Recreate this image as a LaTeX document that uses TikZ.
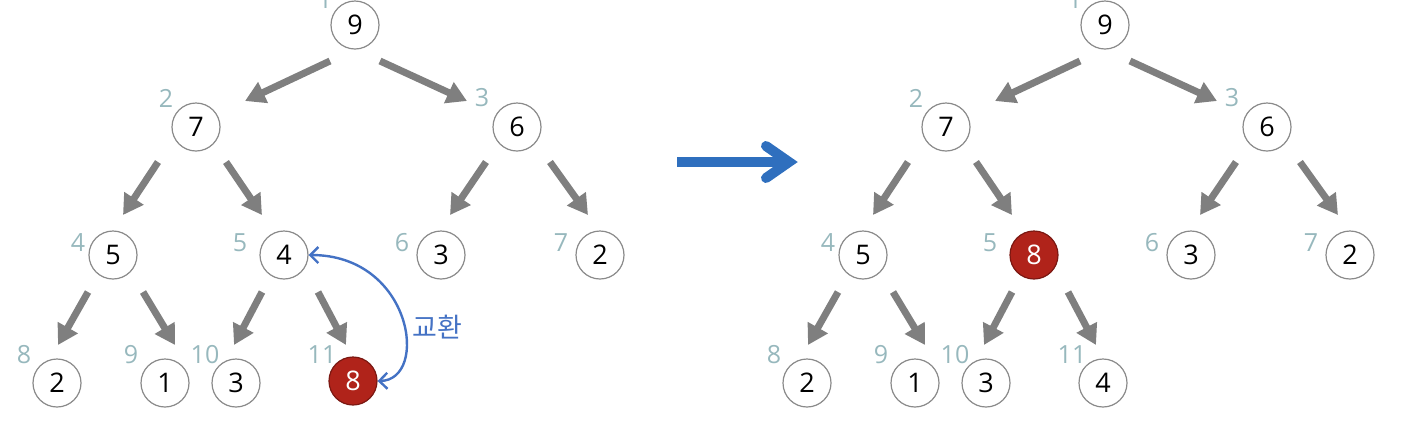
\documentclass[tikz,border=0pt]{standalone}
\usepackage{fontspec}
\setmainfont{Open Sans}
\newfontfamily\krfont{Noto Sans CJK KR}
\usetikzlibrary{arrows.meta,calc}
\definecolor{nodeborder}{HTML}{8A8A8A}
\definecolor{idxcol}{HTML}{97B8BD}
\definecolor{arrgray}{HTML}{7F7F7F}
\definecolor{hotred}{HTML}{B0231A}
\definecolor{swapblue}{HTML}{4472C4}
\definecolor{bigblue}{HTML}{2F6FBE}
\tikzset{
  heapnode/.style={circle,draw=nodeborder,line width=0.6pt,fill=white,minimum size=24pt,inner sep=0pt,font=\fontsize{13.5}{15}\selectfont},
  hotnode/.style={heapnode,fill=hotred,draw=hotred!70!black,text=white},
  idx/.style={text=idxcol,inner sep=0pt,font=\fontsize{12.5}{14}\selectfont},
  tarrow/.style={draw=arrgray,line width=3.5pt,-{Triangle[length=10pt,width=11pt]}},
  swaparrow/.style={draw=swapblue,line width=1.2pt,{Straight Barb[length=4pt,width=8pt]}-{Straight Barb[length=4pt,width=8pt]}},
}
\begin{document}
\begin{tikzpicture}[x=0.5pt,y=-0.5pt]
\useasboundingbox (0,0) rectangle (1410,420);
% ---------- left tree ----------
\node[heapnode] (L1) at (355,25) {9};
\node[heapnode] (L2) at (196,127) {7};
\node[heapnode] (L3) at (517,127) {6};
\node[heapnode] (L4) at (113,255) {5};
\node[heapnode] (L5) at (284,255) {4};
\node[heapnode] (L6) at (441,255) {3};
\node[heapnode] (L7) at (600,255) {2};
\node[heapnode] (L8) at (57,383) {2};
\node[heapnode] (L9) at (165,383) {1};
\node[heapnode] (L10) at (236,383) {3};
\node[hotnode] (L11) at (353,381) {8};
\node[idx] (Li1) at (325,0) {1};
\node[idx] (Li2) at (166,98) {2};
\node[idx] (Li3) at (482,98) {3};
\node[idx] (Li4) at (78,243) {4};
\node[idx] (Li5) at (240,243) {5};
\node[idx] (Li6) at (402,243) {6};
\node[idx] (Li7) at (561,243) {7};
\node[idx] (Li8) at (24,355) {8};
\node[idx] (Li9) at (131,355) {9};
\node[idx] (Li10) at (205,355) {10};
\node[idx] (Li11) at (322,355) {11};
\draw[tarrow] ($(L1)+(-25,36)$) -- ($(L2)+(49,-26)$);
\draw[tarrow] ($(L1)+(25,36)$) -- ($(L3)+(-50,-26)$);
\draw[tarrow] ($(L2)+(-38,35)$) -- ($(L4)+(10,-40)$);
\draw[tarrow] ($(L2)+(30,35)$) -- ($(L5)+(-22,-40)$);
\draw[tarrow] ($(L3)+(-31,35)$) -- ($(L6)+(9,-40)$);
\draw[tarrow] ($(L3)+(33,35)$) -- ($(L7)+(-12,-40)$);
\draw[tarrow] ($(L4)+(-25,37)$) -- ($(L8)+(1,-38)$);
\draw[tarrow] ($(L4)+(30,37)$) -- ($(L9)+(10,-38)$);
\draw[tarrow] ($(L5)+(-22,37)$) -- ($(L10)+(-2,-38)$);
\draw[tarrow] ($(L5)+(34,37)$) -- ($(L11)+(-7,-36)$);
\draw[swaparrow] (L5.east) .. controls ($(L5.east)+(104,0)$) and ($(L11.east)+(52,-1)$) .. (L11.east);
\node[text=swapblue,font=\krfont\fontsize{13.5}{15}\selectfont] (swaplbl) at (437,327) {교환};
% ---------- big arrow ----------
\coordinate (ba) at (677,162);
\coordinate (bb) at (789,162);
\draw[draw=bigblue,line width=5pt] (ba) -- (bb);
\draw[draw=bigblue,line width=5pt,line cap=round,miter limit=10] ($(bb)+(-23,-16)$) -- (bb) -- ($(bb)+(-23,16)$);
% ---------- right tree ----------
\begin{scope}[shift={(750,0)}]
\node[heapnode] (R1) at (355,25) {9};
\node[heapnode] (R2) at (196,127) {7};
\node[heapnode] (R3) at (517,127) {6};
\node[heapnode] (R4) at (113,255) {5};
\node[hotnode] (R5) at (284,255) {8};
\node[heapnode] (R6) at (441,255) {3};
\node[heapnode] (R7) at (600,255) {2};
\node[heapnode] (R8) at (57,383) {2};
\node[heapnode] (R9) at (165,383) {1};
\node[heapnode] (R10) at (236,383) {3};
\node[heapnode] (R11) at (353,383) {4};
\node[idx] (Ri1) at (325,0) {1};
\node[idx] (Ri2) at (166,98) {2};
\node[idx] (Ri3) at (482,98) {3};
\node[idx] (Ri4) at (78,243) {4};
\node[idx] (Ri5) at (240,243) {5};
\node[idx] (Ri6) at (402,243) {6};
\node[idx] (Ri7) at (561,243) {7};
\node[idx] (Ri8) at (24,355) {8};
\node[idx] (Ri9) at (131,355) {9};
\node[idx] (Ri10) at (205,355) {10};
\node[idx] (Ri11) at (322,355) {11};
\draw[tarrow] ($(R1)+(-25,36)$) -- ($(R2)+(49,-26)$);
\draw[tarrow] ($(R1)+(25,36)$) -- ($(R3)+(-50,-26)$);
\draw[tarrow] ($(R2)+(-38,35)$) -- ($(R4)+(10,-40)$);
\draw[tarrow] ($(R2)+(30,35)$) -- ($(R5)+(-22,-40)$);
\draw[tarrow] ($(R3)+(-31,35)$) -- ($(R6)+(9,-40)$);
\draw[tarrow] ($(R3)+(33,35)$) -- ($(R7)+(-12,-40)$);
\draw[tarrow] ($(R4)+(-25,37)$) -- ($(R8)+(1,-38)$);
\draw[tarrow] ($(R4)+(30,37)$) -- ($(R9)+(10,-38)$);
\draw[tarrow] ($(R5)+(-22,37)$) -- ($(R10)+(-2,-38)$);
\draw[tarrow] ($(R5)+(34,37)$) -- ($(R11)+(-7,-38)$);
\end{scope}
\end{tikzpicture}
\end{document}
